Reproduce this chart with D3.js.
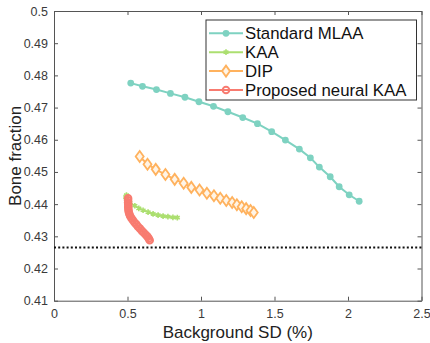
<!DOCTYPE html>
<html>
<head>
<meta charset="utf-8">
<script src="https://cdn.jsdelivr.net/npm/d3@7"></script>
<style>
  body { margin: 0; background: #fff; }
  svg { font-family: "Liberation Sans", Arial, sans-serif; }
</style>
</head>
<body>
<div id="chart"></div>
<script>
// values
const mlaaX = [0.522, 0.602, 0.697, 0.792, 0.891, 0.986, 1.085, 1.183, 1.284, 1.384, 1.481, 1.574, 1.669, 1.744, 1.805, 1.879, 1.940, 2.008, 2.076];
const mlaaY = [0.4776, 0.4766, 0.4756, 0.4744, 0.4732, 0.4718, 0.4704, 0.4687, 0.4669, 0.4650, 0.4625, 0.4599, 0.4571, 0.4544, 0.4515, 0.4485, 0.4454, 0.4429, 0.4409];

const kaaX = [0.493, 0.488, 0.493, 0.516, 0.550, 0.577, 0.606, 0.640, 0.674, 0.708, 0.742, 0.775, 0.809, 0.839];
const kaaY = [0.4428, 0.4422, 0.4416, 0.4404, 0.4395, 0.4387, 0.4381, 0.4375, 0.4370, 0.4366, 0.4363, 0.4361, 0.4359, 0.4358];

const dipX = [0.583, 0.636, 0.692, 0.758, 0.821, 0.882, 0.934, 0.990, 1.040, 1.088, 1.131, 1.172, 1.212, 1.244, 1.277, 1.307, 1.337, 1.359];
const dipY = [0.4548, 0.4524, 0.4508, 0.4492, 0.4477, 0.4465, 0.4452, 0.4444, 0.4434, 0.4426, 0.4418, 0.4411, 0.4405, 0.4398, 0.4392, 0.4386, 0.4380, 0.4374];

const nkaaX = [0.504, 0.504, 0.504, 0.505, 0.505, 0.506, 0.508, 0.512, 0.518, 0.527, 0.537, 0.548, 0.560, 0.572, 0.585, 0.598, 0.611, 0.624, 0.636, 0.645, 0.651];
const nkaaY = [0.4418, 0.4412, 0.4405, 0.4398, 0.4391, 0.4384, 0.4377, 0.4370, 0.4363, 0.4356, 0.4350, 0.4343, 0.4337, 0.4330, 0.4324, 0.4317, 0.4311, 0.4305, 0.4299, 0.4293, 0.4288];

const refLevel = 0.4265;

const xTicks = [0, 0.5, 1, 1.5, 2, 2.5];
const yTicks = [0.41, 0.42, 0.43, 0.44, 0.45, 0.46, 0.47, 0.48, 0.49, 0.5];

const seriesNames = ['Standard MLAA', 'KAA', 'DIP', 'Proposed neural KAA'];

const W = 430, H = 343;
const margin = { top: 11, right: 8.5, bottom: 42.3, left: 54 };
const width = W - margin.left - margin.right;
const height = H - margin.top - margin.bottom;

const svg = d3.select('#chart').append('svg')
  .attr('width', W)
  .attr('height', H);

const g = svg.append('g')
  .attr('transform', `translate(${margin.left}, ${margin.top})`);

const x = d3.scaleLinear().domain([0, 2.5]).range([0, width]);
const y = d3.scaleLinear().domain([0.41, 0.5]).range([height, 0]);

const axisColor = '#555';
const tickColor = '#3a3a3a';

// axes, matlab style: ticks pointing in, box on
function styleAxis(sel, showText) {
  sel.select('.domain').attr('stroke', axisColor).attr('stroke-width', 1);
  sel.selectAll('.tick line').attr('stroke', axisColor);
  sel.selectAll('.tick text')
    .attr('fill', tickColor)
    .style('font-size', '12.5px')
    .style('display', showText ? null : 'none');
}

g.append('g')
  .attr('transform', `translate(0, ${height})`)
  .call(d3.axisBottom(x).tickValues(xTicks).tickSize(-4).tickSizeOuter(0).tickPadding(8).tickFormat(d3.format('')))
  .call(s => styleAxis(s, true));

g.append('g')
  .call(d3.axisTop(x).tickValues(xTicks).tickSize(-4).tickSizeOuter(0))
  .call(s => styleAxis(s, false));

g.append('g')
  .call(d3.axisLeft(y).tickValues(yTicks).tickSize(-4).tickSizeOuter(0).tickPadding(6).tickFormat(d3.format('')))
  .call(s => styleAxis(s, true));

g.append('g')
  .attr('transform', `translate(${width}, 0)`)
  .call(d3.axisRight(y).tickValues(yTicks).tickSize(-4).tickSizeOuter(0))
  .call(s => styleAxis(s, false));

// reference line
g.append('line')
  .attr('x1', x(0)).attr('x2', x(2.5))
  .attr('y1', y(refLevel)).attr('y2', y(refLevel))
  .attr('stroke', '#111')
  .attr('stroke-width', 2)
  .attr('stroke-dasharray', '2,2.2');

const zip = (xs, ys) => xs.map((v, i) => [v, ys[i]]);

const series = [
  { name: seriesNames[0], pts: zip(mlaaX, mlaaY), color: '#7ed2c1', marker: 'dot' },
  { name: seriesNames[1], pts: zip(kaaX, kaaY), color: '#acdf70', marker: 'star' },
  { name: seriesNames[2], pts: zip(dipX, dipY), color: '#ffb25e', marker: 'diamond' },
  { name: seriesNames[3], pts: zip(nkaaX, nkaaY), color: '#f87b70', marker: 'ring' }
];

const line = d3.line().x(d => x(d[0])).y(d => y(d[1]));

function drawMarker(sel, s) {
  if (s.marker === 'dot') {
    sel.append('circle').attr('r', 3.4).attr('fill', s.color);
  } else if (s.marker === 'star') {
    sel.append('path').attr('d', d3.symbol(d3.symbolAsterisk, 22)())
      .attr('fill', 'none').attr('stroke', s.color).attr('stroke-width', 1.6);
  } else if (s.marker === 'diamond') {
    sel.append('path').attr('d', 'M0,-5.5L4,0L0,5.5L-4,0Z')
      .attr('fill', '#fff4e6').attr('stroke', s.color).attr('stroke-width', 1.8);
  } else {
    sel.append('circle').attr('r', 3.3)
      .attr('fill', 'none').attr('stroke', s.color).attr('stroke-width', 2);
  }
}

series.forEach(s => {
  const sg = g.append('g');
  sg.append('path')
    .datum(s.pts)
    .attr('d', line)
    .attr('fill', 'none')
    .attr('stroke', s.color)
    .attr('stroke-width', s.marker === 'ring' ? 3 : 2);
  sg.selectAll('g.m')
    .data(s.pts)
    .enter().append('g')
    .attr('class', 'm')
    .attr('transform', d => `translate(${x(d[0])}, ${y(d[1])})`)
    .each(function () { drawMarker(d3.select(this), s); });
});

// legend
const lg = svg.append('g').attr('transform', 'translate(206, 20)');
lg.append('rect')
  .attr('width', 210.5).attr('height', 80)
  .attr('fill', '#fff').attr('stroke', '#333').attr('stroke-width', 1);

series.forEach((s, i) => {
  const row = lg.append('g').attr('transform', `translate(0, ${13.3 + i * 18.9})`);
  row.append('line')
    .attr('x1', 3).attr('x2', 37)
    .attr('stroke', s.color).attr('stroke-width', 2);
  const m = row.append('g').attr('transform', 'translate(20, 0)');
  drawMarker(m, s);
  row.append('text')
    .attr('x', 39).attr('y', 6)
    .attr('fill', '#111')
    .style('font-size', '16.8px')
    .text(s.name);
});

// axis titles
svg.append('text')
  .attr('x', margin.left + width / 2)
  .attr('y', 337.5)
  .attr('text-anchor', 'middle')
  .attr('fill', '#222')
  .style('font-size', '17px')
  .text('Background SD (%)');

svg.append('text')
  .attr('transform', `translate(21, ${margin.top + height / 2}) rotate(-90)`)
  .attr('text-anchor', 'middle')
  .attr('fill', '#222')
  .style('font-size', '17px')
  .text('Bone fraction');
</script>
</body>
</html>
